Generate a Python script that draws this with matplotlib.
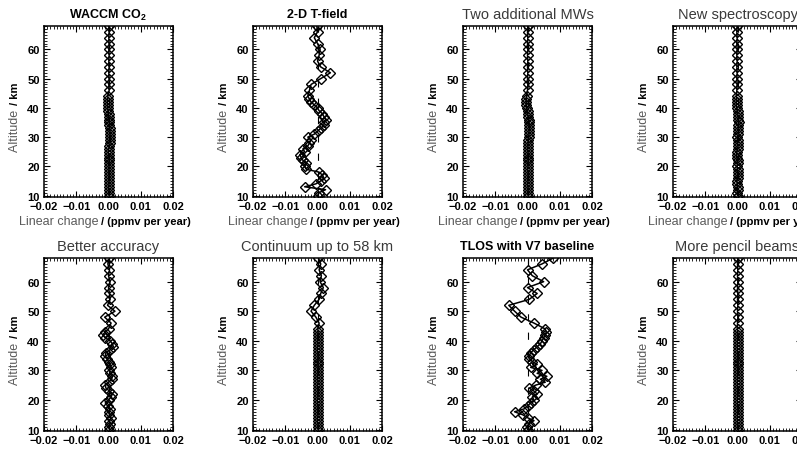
import matplotlib
matplotlib.use("Agg")
import matplotlib.pyplot as plt
from matplotlib.ticker import MultipleLocator, FuncFormatter

plt.rcParams['font.family'] = ['Liberation Sans', 'DejaVu Sans']
plt.rcParams['mathtext.fontset'] = 'custom'
plt.rcParams['mathtext.rm'] = 'Liberation Sans'
plt.rcParams['mathtext.bf'] = 'Liberation Sans:bold'

# Altitude grid (km)
altitude = [10, 11, 12, 13, 14, 15, 16, 17, 18, 19, 20, 21, 22, 23, 24,
            25, 26, 27, 28, 29, 30, 31, 32, 33, 34, 35, 36, 37, 38, 39,
            40, 41, 42, 43, 44, 46, 48, 50, 52, 54, 56, 58, 60, 62, 64, 66, 68]

titles = ["WACCM CO$_\\mathbf{2}$", "2-D T-field", "Two additional MWs", "New spectroscopy",
          "Better accuracy", "Continuum up to 58 km", "TLOS with V7 baseline", "More pencil beams"]
title_bold = [True, True, False, False, False, False, True, False]

waccm = [0.0002, 0.0001, 0.0002, 0.0001, 0.0002, 0.0002, 0.0001, 0.0002, 0.0001, 0.0002,
         0.0002, 0.0001, 0.0002, 0.0001, 0.0001, 0.0000, 0.0001, 0.0003, 0.0005, 0.0006,
         0.0006, 0.0005, 0.0005, 0.0004, 0.0003, 0.0002, 0.0001, 0.0000, 0.0000, -0.0001,
         -0.0002, -0.0002, -0.0003, -0.0002, -0.0002,
         0.0002, 0.0001, 0.0002, 0.0001, 0.0002, 0.0001, 0.0002, 0.0001, 0.0002, 0.0001, 0.0002, 0.0001]

tfield2d = [0.0000, 0.0005, 0.0025, -0.0040, -0.0005, 0.0010, 0.0020, 0.0015, 0.0005, -0.0035,
            -0.0040, -0.0035, -0.0045, -0.0050, -0.0055, -0.0040, -0.0045, -0.0030, -0.0025, -0.0020,
            -0.0030, -0.0010, 0.0000, 0.0010, 0.0020, 0.0020, 0.0025, 0.0020, 0.0015, 0.0005,
            0.0000, -0.0010, -0.0020, -0.0025, -0.0030,
            -0.0025, -0.0020, 0.0010, 0.0040, 0.0010, 0.0000, 0.0005, 0.0008, 0.0000, -0.0010, 0.0000, -0.0002]

two_mws = [0.0002, 0.0001, 0.0002, 0.0002, 0.0001, 0.0002, 0.0001, 0.0002, 0.0002, 0.0001,
           0.0002, 0.0001, 0.0002, 0.0001, 0.0002, 0.0002, 0.0001, 0.0002, 0.0002, 0.0003,
           0.0004, 0.0005, 0.0005, 0.0006, 0.0005, 0.0005, 0.0004, 0.0002, 0.0001, 0.0000,
           -0.0003, -0.0004, -0.0004, -0.0004, -0.0003,
           0.0000, 0.0001, 0.0000, 0.0001, 0.0000, 0.0001, 0.0000, 0.0001, 0.0000, 0.0001, 0.0000, 0.0001]

new_spec = [0.0000, -0.0001, 0.0000, 0.0001, -0.0001, -0.0002, 0.0000, 0.0001, 0.0000, 0.0000,
            -0.0001, 0.0000, 0.0001, -0.0002, -0.0003, -0.0002, 0.0001, 0.0002, 0.0001, 0.0000,
            -0.0001, 0.0002, 0.0003, 0.0002, 0.0003, 0.0004, 0.0003, 0.0002, 0.0001, 0.0000,
            -0.0002, -0.0003, -0.0003, -0.0002, -0.0003,
            -0.0002, -0.0001, -0.0002, -0.0001, -0.0002, -0.0001, -0.0002, -0.0001, -0.0002, -0.0001, -0.0002, -0.0001]

better_acc = [0.0003, 0.0000, 0.0005, 0.0002, 0.0008, 0.0003, 0.0000, 0.0005, -0.0003, -0.0010,
              0.0000, 0.0008, 0.0012, 0.0003, -0.0008, -0.0010, 0.0000, 0.0010, 0.0012, 0.0005,
              0.0003, 0.0008, 0.0005, 0.0000, -0.0005, -0.0010, -0.0008, 0.0005, 0.0015, 0.0012,
              0.0005, -0.0010, -0.0018, -0.0010, 0.0000,
              0.0008, -0.0012, 0.0020, -0.0003, 0.0005, 0.0003, 0.0000, 0.0005, 0.0000, 0.0003, -0.0002, 0.0003]

continuum = [0.0002, 0.0001, 0.0002, 0.0000, 0.0001, 0.0002, 0.0001, 0.0000, 0.0002, 0.0001,
             0.0000, 0.0002, 0.0001, 0.0002, 0.0000, 0.0001, 0.0002, 0.0001, 0.0000, 0.0002,
             0.0001, 0.0002, 0.0001, 0.0000, 0.0001, 0.0002, 0.0001, 0.0000, 0.0001, 0.0002,
             0.0001, 0.0000, 0.0001, 0.0002, 0.0001,
             0.0005, -0.0005, -0.0020, -0.0010, 0.0005, 0.0010, 0.0018, 0.0008, 0.0012, 0.0005, 0.0010, 0.0003]

tlos_v7 = [0.0000, -0.0003, 0.0005, 0.0020, 0.0000, -0.0015, -0.0040, -0.0010, 0.0000, 0.0010,
           0.0020, 0.0015, 0.0030, 0.0020, 0.0005, 0.0025, 0.0055, 0.0040, 0.0060, 0.0030,
           0.0045, 0.0010, 0.0030, 0.0015, 0.0005, 0.0005, 0.0010, 0.0020, 0.0030, 0.0040,
           0.0045, 0.0050, 0.0055, 0.0058, 0.0055,
           0.0020, -0.0020, -0.0040, -0.0058, 0.0005, 0.0030, 0.0000, 0.0050, 0.0015, 0.0000, 0.0045, 0.0080]

pencil = [0.0000, 0.0001, 0.0000, 0.0001, 0.0000, 0.0001, 0.0000, 0.0001, 0.0000, 0.0001,
          0.0000, 0.0001, 0.0000, 0.0001, 0.0000, 0.0001, 0.0000, 0.0001, 0.0000, 0.0001,
          0.0000, 0.0001, 0.0000, 0.0001, 0.0000, 0.0001, 0.0000, 0.0001, 0.0000, 0.0001,
          0.0000, 0.0001, 0.0000, 0.0001, 0.0000,
          0.0000, 0.0001, 0.0000, 0.0001, 0.0000, 0.0001, 0.0000, 0.0001, 0.0000, 0.0001, 0.0000, 0.0001]

series = [waccm, tfield2d, two_mws, new_spec, better_acc, continuum, tlos_v7, pencil]

W, H = 797, 452
fig = plt.figure(figsize=(W / 100, H / 100), dpi=100)

lefts_px = [44, 253, 463, 673]
panel_w = 129
rows = [(27, 198), (259, 432)]
gray = '#5a5a5a'


def fmt(v, pos):
    s = '%.2f' % abs(v)
    if v < -1e-9:
        return '\u2212' + s
    return s


for i in range(8):
    r, c = divmod(i, 4)
    top, bot = rows[r]
    ax = fig.add_axes([lefts_px[c] / W, 1 - bot / H, panel_w / W, (bot - top) / H])
    ax.axvline(0, color='black', lw=0.8, ls=(0, (6.5, 10)), zorder=1)
    ax.plot(series[i], altitude, color='black', lw=1.1, marker='D', ms=5.3,
            mfc='none', mec='black', mew=1.0, zorder=2)
    ax.set_xlim(-0.02, 0.02)
    ax.set_ylim(9.5, 68)
    ax.xaxis.set_major_locator(MultipleLocator(0.01))
    ax.xaxis.set_minor_locator(MultipleLocator(0.001))
    ax.yaxis.set_major_locator(MultipleLocator(10))
    ax.yaxis.set_minor_locator(MultipleLocator(1))
    ax.xaxis.set_major_formatter(FuncFormatter(fmt))
    ax.tick_params(which='both', direction='in', top=True, right=True)
    ax.tick_params(which='major', length=4, width=0.8, labelsize=8, pad=3)
    ax.tick_params(which='minor', length=2, width=0.6)
    for lab in ax.get_xticklabels() + ax.get_yticklabels():
        lab.set_fontweight('bold')
    for sp in ax.spines.values():
        sp.set_linewidth(1.1)

    # title
    if title_bold[i]:
        ax.annotate(titles[i], xy=(0.5, 1), xycoords='axes fraction', xytext=(0, 12),
                    textcoords='offset pixels', ha='center', va='center',
                    fontsize=9, fontweight='bold', color='black')
    else:
        ax.annotate(titles[i], xy=(0.5, 1), xycoords='axes fraction', xytext=(0, 12),
                    textcoords='offset pixels', ha='center', va='center',
                    fontsize=10.5, color='#3a3a3a')

    # y label: "Altitude" gray + "/ km" bold black
    ysplit = 0.5 + 7 / (bot - top)
    ax.text(-0.225, ysplit - 0.005, 'Altitude ', transform=ax.transAxes, rotation=90,
            rotation_mode='anchor', ha='right', va='center', fontsize=9, color=gray)
    ax.text(-0.225, ysplit, '/ km', transform=ax.transAxes, rotation=90,
            rotation_mode='anchor', ha='left', va='center', fontsize=8, fontweight='bold',
            color='black')

    # x label on the top row
    if r == 0:
        xsplit = (98.5 - 44) / panel_w
        ax.text(xsplit, -24 / (bot - top), 'Linear change', transform=ax.transAxes,
                ha='right', va='center', fontsize=9, color=gray)
        ax.text(xsplit + 0.02, -24 / (bot - top), '/ (ppmv per year)', transform=ax.transAxes,
                ha='left', va='center', fontsize=8, fontweight='bold', color='black')

fig.savefig('out.png', dpi=100)
